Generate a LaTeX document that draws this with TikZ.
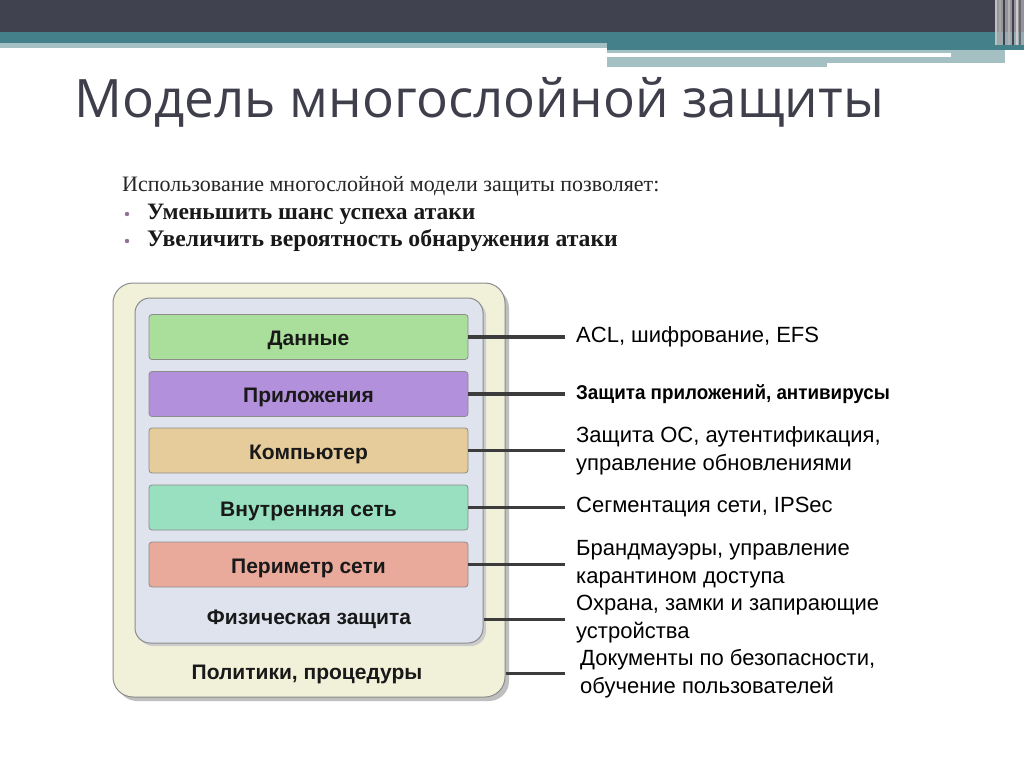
\documentclass[tikz,border=0pt]{standalone}
\usepackage{fontspec}
\usepackage{graphicx}
\setmainfont{Liberation Sans}
\newfontfamily\titlefont{Open Sans}
\newfontfamily\seriffont{Liberation Serif}
\definecolor{darkband}{HTML}{41424F}
\definecolor{tealband}{HTML}{44808A}
\definecolor{paleteal}{HTML}{A4C0C2}
\definecolor{titlegray}{HTML}{3E3F4B}
\definecolor{outerfill}{HTML}{F1F1DA}
\definecolor{innerfill}{HTML}{DEE3EE}
\definecolor{boxline}{HTML}{8C8C8C}
\definecolor{cdata}{HTML}{A9DF9A}
\definecolor{capps}{HTML}{B290DB}
\definecolor{ccomp}{HTML}{E6CC9A}
\definecolor{cnet}{HTML}{99E0C0}
\definecolor{cperim}{HTML}{E9A99B}
\definecolor{conn}{HTML}{3C3C3C}
\definecolor{bulletc}{HTML}{8E7393}
\begin{document}
\begin{tikzpicture}[x=1pt,y=-1pt,
  layer/.style={draw=boxline, line width=0.8pt, rounded corners=3pt, minimum width=319pt, minimum height=45pt, inner sep=0pt,
    font=\fontsize{21}{24}\selectfont\bfseries, text=black!90, text height=17pt, text depth=0pt},
  plain/.style={inner sep=0pt, font=\fontsize{21}{24}\selectfont\bfseries, text=black!90, text height=17pt, text depth=0pt},
  lbl/.style={anchor=west, inner xsep=11pt, inner ysep=0pt, align=left, font=\fontsize{22}{28}\selectfont, text=black},
  connector/.style={draw=conn, line width=3.5pt}]
\useasboundingbox (0,0) rectangle (1024,767);
\fill[white] (0,0) rectangle (1024,767);
% top band
\fill[darkband] (0,0) rectangle (1024,32);
\fill[tealband] (0,32) rectangle (1024,43);
\fill[tealband] (607,32) rectangle (1024,50);
\fill[paleteal] (0,43) rectangle (607,48);
\fill[paleteal] (607,50) rectangle (1005,63);
\fill[paleteal] (607,63) rectangle (827,67);
\fill[white] (607,53) rectangle (951,57);
\fill[gray!40, opacity=0.6] (995,0) rectangle (1024,45);
\foreach \x/\c in {996/gray!50,1000/gray!70,1004/darkband,1009/gray!60,1013/darkband,1017/gray!40,1020/darkband!80}
  \draw[\c, line width=1.2pt] (\x,0) -- (\x,45);
% title
\node[anchor=base west, inner sep=0pt, font=\titlefont\fontsize{53}{60}\selectfont, text=titlegray] (title) at (74,118) {Модель многослойной защиты};
% intro
\node[anchor=base west, inner sep=0pt, font=\seriffont\fontsize{22}{24}\selectfont, text=black!85] (intro) at (122,192) {Использование многослойной модели защиты позволяет:};
\node[anchor=base west, inner sep=0pt, font=\seriffont\fontsize{23.5}{24}\selectfont\bfseries, text=black!90] (b1) at (147,220) {Уменьшить шанс успеха атаки};
\node[anchor=base west, inner sep=0pt, font=\seriffont\fontsize{23.7}{24}\selectfont\bfseries, text=black!90] (b2) at (147,247) {Увеличить вероятность обнаружения атаки};
\fill[bulletc] (127,214) circle (2.2pt);
\fill[bulletc] (127,241) circle (2.2pt);
% boxes
\fill[black!25, rounded corners=20pt] (117,288) rectangle (509,701);
\node[draw=boxline, line width=1pt, fill=outerfill, rounded corners=20pt, minimum width=392pt, minimum height=414pt, inner sep=0pt] (outer) at (309,490) {};
\fill[black!20, rounded corners=15pt] (138,301) rectangle (486,646);
\node[draw=boxline, line width=1pt, fill=innerfill, rounded corners=15pt, minimum width=348pt, minimum height=345pt, inner sep=0pt] (inner) at (309,470.5) {};
\node[layer, fill=cdata] (data) at (308.5,337) {Данные};
\node[layer, fill=capps] (apps) at (308.5,394) {Приложения};
\node[layer, fill=ccomp] (comp) at (308.5,450.5) {Компьютер};
\node[layer, fill=cnet] (net) at (308.5,507.5) {Внутренняя сеть};
\node[layer, fill=cperim] (perim) at (308.5,564.5) {Периметр сети};
\node[plain] (phys) at (309,616) {Физическая защита};
\node[plain] (pol) at (307,671) {Политики, процедуры};
% labels
\node[lbl] (ldata) at (565,337) {ACL, шифрование, EFS};
\node[lbl] (lapps) at (565,394) {\scalebox{0.94}[1]{\fontsize{20}{24}\selectfont\bfseries Защита приложений, антивирусы}};
\node[lbl] (lcomp) at (565,450.5) {Защита ОС, аутентификация,\\управление обновлениями};
\node[lbl] (lnet) at (565,507.5) {Сегментация сети, IPSec};
\node[lbl] (lperim) at (565,564.5) {Брандмауэры, управление\\карантином доступа};
\node[lbl] (lphys) at (565,619.5) {Охрана, замки и запирающие\\устройства};
\node[lbl, inner xsep=15pt] (lpol) at (565,673.5) {Документы по безопасности,\\обучение пользователей};
% connectors
\draw[connector] (data.east) -- (ldata.west);
\draw[connector] (apps.east) -- (lapps.west);
\draw[connector] (comp.east) -- (lcomp.west);
\draw[connector] (net.east) -- (lnet.west);
\draw[connector] (perim.east) -- (lperim.west);
\draw[connector] (inner.east |- lphys.west) -- (lphys.west);
\draw[connector] (outer.east |- lpol.west) -- (lpol.west);
\end{tikzpicture}
\end{document}
